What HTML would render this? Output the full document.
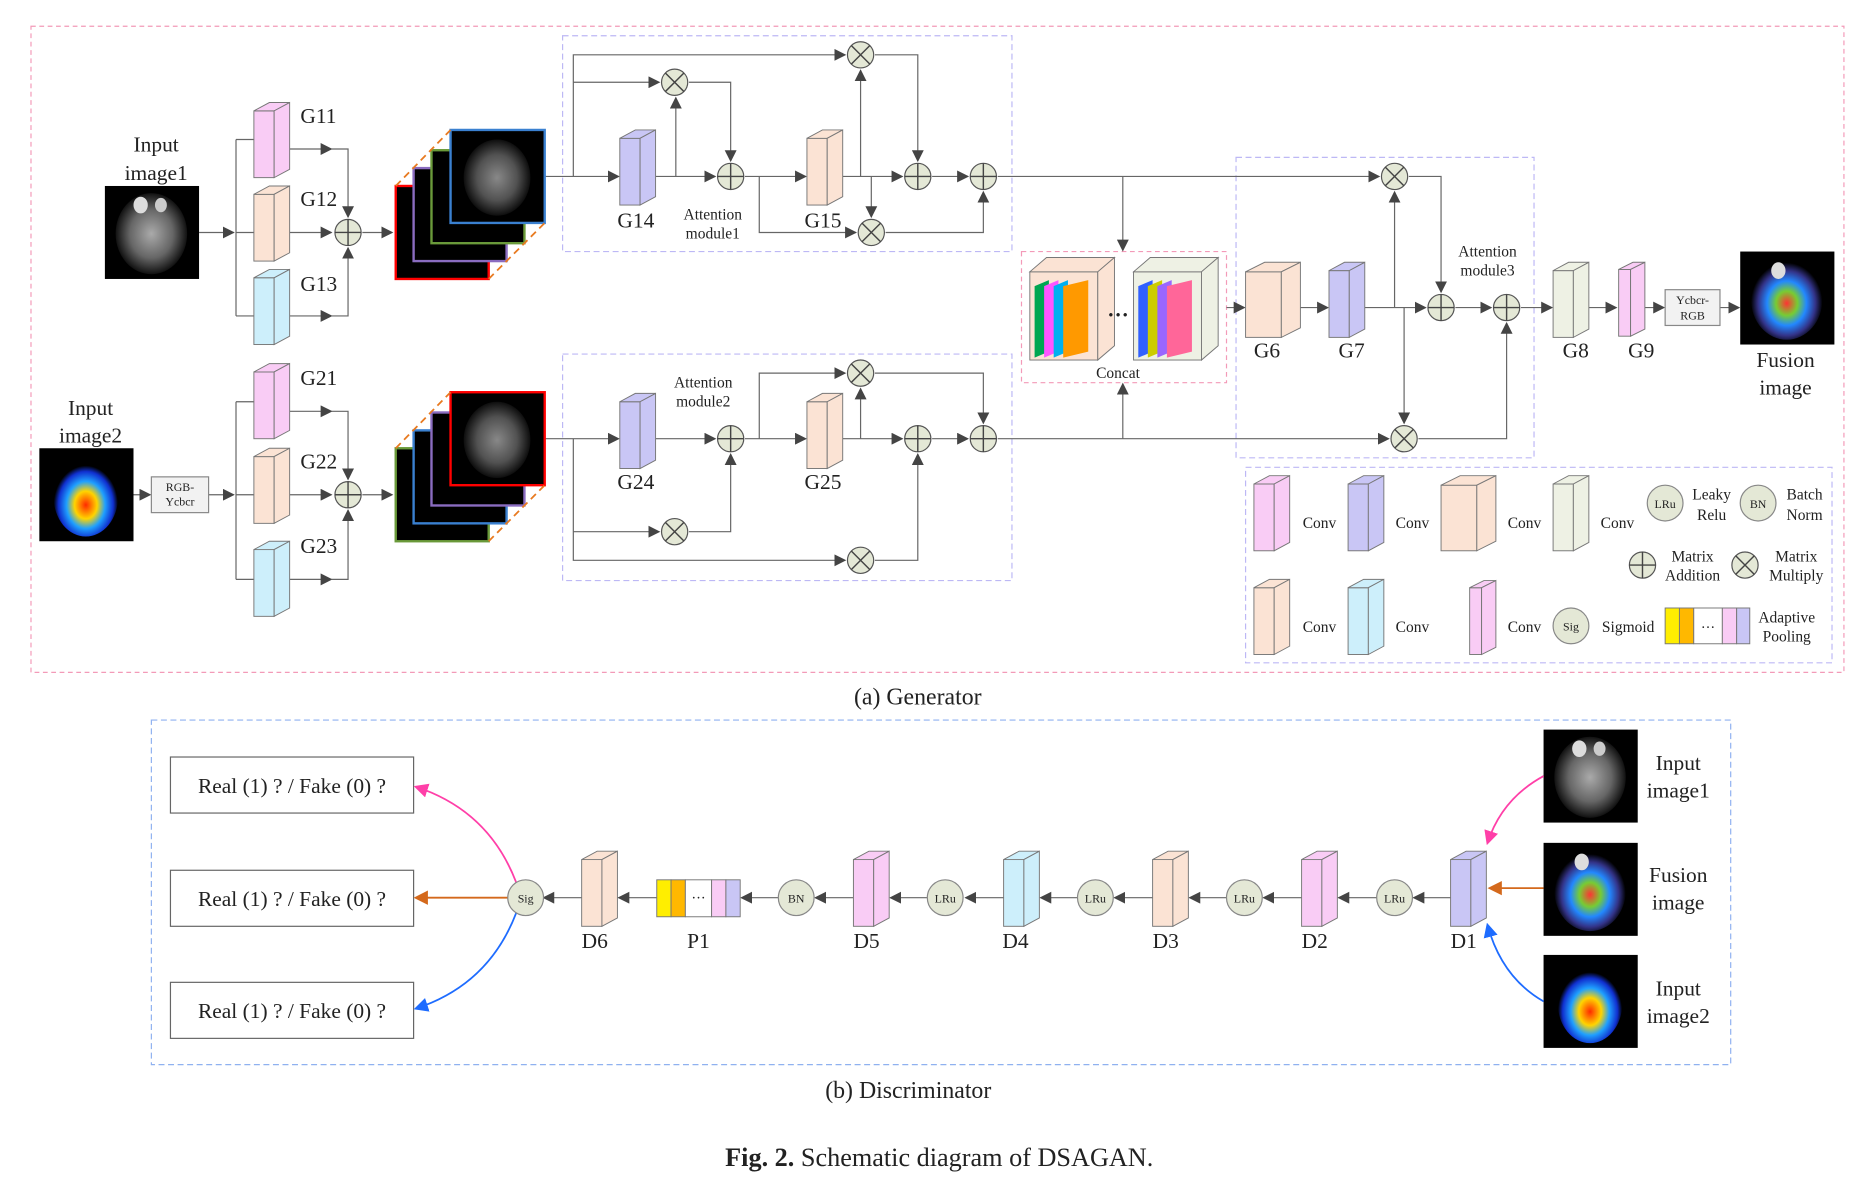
<!DOCTYPE html>
<html><head><meta charset="utf-8"><style>
html,body{margin:0;padding:0;background:#fff;}
svg{display:block;}
text{font-family:"Liberation Serif",serif;fill:#222;}
</style></head><body>
<svg width="1863" height="1185" viewBox="0 0 1563 994" preserveAspectRatio="none" xmlns="http://www.w3.org/2000/svg">
<defs>
<marker id="ar" markerWidth="10" markerHeight="10" refX="9" refY="5" orient="auto" markerUnits="userSpaceOnUse"><path d="M0,0 L10,5 L0,10 z" fill="#444"/></marker>
<marker id="arP" markerWidth="12" markerHeight="12" refX="10" refY="6" orient="auto" markerUnits="userSpaceOnUse"><path d="M0,0 L12,6 L0,12 z" fill="#ff3fa8"/></marker>
<marker id="arO" markerWidth="12" markerHeight="12" refX="10" refY="6" orient="auto" markerUnits="userSpaceOnUse"><path d="M0,0 L12,6 L0,12 z" fill="#d4691c"/></marker>
<marker id="arB" markerWidth="12" markerHeight="12" refX="10" refY="6" orient="auto" markerUnits="userSpaceOnUse"><path d="M0,0 L12,6 L0,12 z" fill="#1e6cff"/></marker>
<g id="ps" stroke="#777" stroke-width="0.8"><rect x="0" y="7" width="17" height="56"/><polygon points="0,7 13,0 30,0 17,7"/><polygon points="17,7 30,0 30,56 17,63"/></g>
<g id="pw" stroke="#777" stroke-width="0.8"><rect x="0" y="8" width="30" height="55"/><polygon points="0,8 16,0 46,0 30,8"/><polygon points="30,8 46,0 46,55 30,63"/></g>
<g id="pt" stroke="#777" stroke-width="0.8"><rect x="0" y="6" width="10" height="56"/><polygon points="0,6 12,0 22,0 10,6"/><polygon points="10,6 22,0 22,56 10,62"/></g>
<g id="add"><circle r="11" fill="#e4e8d6" stroke="#555" stroke-width="1"/><path d="M-11,0H11M0,-11V11" stroke="#444" stroke-width="1.2"/></g>
<g id="mul"><circle r="11" fill="#e4e8d6" stroke="#555" stroke-width="1"/><path d="M-7.8,-7.8L7.8,7.8M7.8,-7.8L-7.8,7.8" stroke="#444" stroke-width="1.2"/></g>
<radialGradient id="gg" cx="0.5" cy="0.5" r="0.5"><stop offset="0" stop-color="#aaa"/><stop offset="0.6" stop-color="#666"/><stop offset="1" stop-color="#111"/></radialGradient>
<radialGradient id="cg" cx="0.5" cy="0.6" r="0.5"><stop offset="0" stop-color="#ff2a00"/><stop offset="0.35" stop-color="#ffd400"/><stop offset="0.6" stop-color="#1fa0ff"/><stop offset="0.85" stop-color="#1030d0"/><stop offset="1" stop-color="#000"/></radialGradient>
<radialGradient id="fg" cx="0.5" cy="0.55" r="0.5"><stop offset="0" stop-color="#f33"/><stop offset="0.3" stop-color="#7c3"/><stop offset="0.55" stop-color="#28f"/><stop offset="0.8" stop-color="#338"/><stop offset="1" stop-color="#000"/></radialGradient>
<g id="bg"><rect width="79" height="78" fill="#000"/><ellipse cx="39" cy="40" rx="30" ry="34" fill="url(#gg)"/><ellipse cx="30" cy="16" rx="6" ry="7" fill="#ddd"/><ellipse cx="47" cy="16" rx="5" ry="6" fill="#ccc"/></g>
<g id="bc"><rect width="79" height="78" fill="#000"/><ellipse cx="39" cy="41" rx="27" ry="33" fill="url(#cg)"/></g>
<g id="bf"><rect width="79" height="78" fill="#000"/><ellipse cx="39" cy="40" rx="30" ry="34" fill="url(#fg)"/><ellipse cx="32" cy="16" rx="6" ry="7" fill="#ddd"/></g>
<g id="bs"><rect width="79" height="78" fill="#000"/><ellipse cx="39" cy="40" rx="28" ry="32" fill="url(#gg)" opacity="0.8"/></g>
</defs>

<!-- frames -->
<rect x="26" y="22" width="1521" height="542" fill="none" stroke="#f39ab8" stroke-dasharray="4,3" stroke-width="1"/>
<rect x="472" y="30" width="377" height="181" fill="none" stroke="#bdb8f5" stroke-dasharray="5,3"/>
<rect x="472" y="297" width="377" height="190" fill="none" stroke="#bdb8f5" stroke-dasharray="5,3"/>
<rect x="857" y="211" width="172" height="110" fill="none" stroke="#f39ab8" stroke-dasharray="4,3"/>
<rect x="1037" y="132" width="250" height="252" fill="none" stroke="#bdb8f5" stroke-dasharray="5,3"/>
<rect x="1045" y="392" width="492" height="164" fill="none" stroke="#bdb8f5" stroke-dasharray="5,3"/>
<rect x="127" y="604" width="1325" height="289" fill="none" stroke="#8fb1f0" stroke-dasharray="5,3"/>

<g font-size="18" text-anchor="middle">
<text x="131" y="127">Input</text><text x="131" y="151">image1</text>
<text x="76" y="348">Input</text><text x="76" y="371">image2</text>
<text x="1498" y="308">Fusion</text><text x="1498" y="331">image</text>
</g>
<use href="#bg" x="88" y="156"/>
<use href="#bc" x="33" y="376"/>
<use href="#bf" x="1460" y="211"/>

<g stroke="#666" stroke-width="1" fill="none">
<!-- top left -->
<path d="M167,195H196" marker-end="url(#ar)"/>
<path d="M198,117V265M198,117H213M198,195H213M198,265H213"/>
<path d="M243,125H278" marker-end="url(#ar)"/><path d="M243,195H278" marker-end="url(#ar)"/><path d="M243,265H278" marker-end="url(#ar)"/>
<path d="M278,125H292V182" marker-end="url(#ar)"/><path d="M278,265H292V208" marker-end="url(#ar)"/>
<path d="M304,195H329" marker-end="url(#ar)"/>
<!-- bottom left -->
<path d="M112,415H126" marker-end="url(#ar)"/>
<path d="M175,415H196" marker-end="url(#ar)"/>
<path d="M198,337V486M198,337H213M198,415H213M198,486H213"/>
<path d="M243,345H278" marker-end="url(#ar)"/><path d="M243,415H278" marker-end="url(#ar)"/><path d="M243,486H278" marker-end="url(#ar)"/>
<path d="M278,345H292V402" marker-end="url(#ar)"/><path d="M278,486H292V428" marker-end="url(#ar)"/>
<path d="M304,415H329" marker-end="url(#ar)"/>
<!-- module1 -->
<path d="M457,148H519" marker-end="url(#ar)"/>
<path d="M481,148V46H709" marker-end="url(#ar)"/>
<path d="M481,69H553" marker-end="url(#ar)"/>
<path d="M550,148H600" marker-end="url(#ar)"/>
<path d="M567,148V82" marker-end="url(#ar)"/>
<path d="M578,69H613V135" marker-end="url(#ar)"/>
<path d="M625,148H676" marker-end="url(#ar)"/>
<path d="M637,148V195H718" marker-end="url(#ar)"/>
<path d="M707,148H757" marker-end="url(#ar)"/>
<path d="M722,148V59" marker-end="url(#ar)"/>
<path d="M731,148V182" marker-end="url(#ar)"/>
<path d="M734,46H770V135" marker-end="url(#ar)"/>
<path d="M782,148H812" marker-end="url(#ar)"/>
<path d="M743,195H825V161" marker-end="url(#ar)"/>
<path d="M837,148H1157" marker-end="url(#ar)"/>
<path d="M942,148V210" marker-end="url(#ar)"/>
<!-- module2 -->
<path d="M457,368H519" marker-end="url(#ar)"/>
<path d="M481,368V470H709" marker-end="url(#ar)"/>
<path d="M481,446H553" marker-end="url(#ar)"/>
<path d="M550,368H600" marker-end="url(#ar)"/>
<path d="M578,446H613V381" marker-end="url(#ar)"/>
<path d="M625,368H676" marker-end="url(#ar)"/>
<path d="M637,368V313H709" marker-end="url(#ar)"/>
<path d="M707,368H757" marker-end="url(#ar)"/>
<path d="M722,368V326" marker-end="url(#ar)"/>
<path d="M734,313H825V355" marker-end="url(#ar)"/>
<path d="M734,470H770V381" marker-end="url(#ar)"/>
<path d="M782,368H812" marker-end="url(#ar)"/>
<path d="M837,368H1165" marker-end="url(#ar)"/>
<path d="M942,368V322" marker-end="url(#ar)"/>
<!-- module3 -->
<path d="M1029,258H1044" marker-end="url(#ar)"/>
<path d="M1091,258H1114" marker-end="url(#ar)"/>
<path d="M1145,258H1196" marker-end="url(#ar)"/>
<path d="M1170,258V161" marker-end="url(#ar)"/>
<path d="M1178,258V355" marker-end="url(#ar)"/>
<path d="M1182,148H1209V245" marker-end="url(#ar)"/>
<path d="M1221,258H1251" marker-end="url(#ar)"/>
<path d="M1190,368H1264V271" marker-end="url(#ar)"/>
<path d="M1276,258H1302" marker-end="url(#ar)"/>
<path d="M1333,258H1356" marker-end="url(#ar)"/>
<path d="M1380,258H1396" marker-end="url(#ar)"/>
<path d="M1443,258H1459" marker-end="url(#ar)"/>
</g>

<!-- feature stacks -->
<g stroke-width="2">
<rect x="332" y="156" width="78" height="78" fill="#000" stroke="#f00"/>
<rect x="347" y="141" width="78" height="78" fill="#000" stroke="#8a6cc0"/>
<rect x="362" y="126" width="78" height="78" fill="#000" stroke="#6a9a3a"/>
<use href="#bs" x="378" y="109"/><rect x="378" y="109" width="79" height="78" fill="none" stroke="#3a80d0"/>
<rect x="332" y="376" width="78" height="78" fill="#000" stroke="#6a9a3a"/>
<rect x="347" y="361" width="78" height="78" fill="#000" stroke="#3a80d0"/>
<rect x="362" y="346" width="78" height="78" fill="#000" stroke="#8a6cc0"/>
<use href="#bs" x="378" y="329"/><rect x="378" y="329" width="79" height="78" fill="none" stroke="#f00"/>
</g>
<g stroke="#e87a20" stroke-width="1.5" stroke-dasharray="6,4">
<path d="M332,156L378,109M410,234L457,187"/><path d="M332,376L378,329M410,454L457,407"/>
</g>

<!-- prisms generator -->
<use href="#ps" x="213" y="86" fill="#f9ccf5"/>
<use href="#ps" x="213" y="156" fill="#fbe3d4"/>
<use href="#ps" x="213" y="226" fill="#cdeffb"/>
<use href="#ps" x="213" y="305" fill="#f9ccf5"/>
<use href="#ps" x="213" y="376" fill="#fbe3d4"/>
<use href="#ps" x="213" y="454" fill="#cdeffb"/>
<use href="#ps" x="520" y="109" fill="#c9c6f5"/>
<use href="#ps" x="677" y="109" fill="#fbe3d4"/>
<use href="#ps" x="520" y="330" fill="#c9c6f5"/>
<use href="#ps" x="677" y="330" fill="#fbe3d4"/>
<use href="#pw" x="1045" y="220" fill="#fbe3d4"/>
<use href="#ps" x="1115" y="220" fill="#c9c6f5"/>
<use href="#ps" x="1303" y="220" fill="#eef1e4"/>
<use href="#pt" x="1358" y="220" fill="#f9ccf5"/>

<!-- concat -->
<g stroke="#777" stroke-width="0.8">
<rect x="864" y="228" width="57" height="74" fill="#fbe3d4"/><polygon points="864,228 878,216 935,216 921,228" fill="#fbe3d4"/><polygon points="921,228 935,216 935,290 921,302" fill="#fbe3d4"/>
<rect x="951" y="228" width="57" height="74" fill="#eef1e4"/><polygon points="951,228 965,216 1022,216 1008,228" fill="#eef1e4"/><polygon points="1008,228 1022,216 1022,290 1008,302" fill="#eef1e4"/>
</g>
<polygon points="868,240 880,235 880,295 868,300" fill="#00a651"/>
<polygon points="876,240 888,235 888,295 876,300" fill="#ff55ff"/>
<polygon points="884,240 896,235 896,295 884,300" fill="#00b0f0"/>
<polygon points="892,240 913,235 913,295 892,300" fill="#ff9900"/>
<polygon points="955,240 967,235 967,295 955,300" fill="#3060ff"/>
<polygon points="963,240 975,235 975,295 963,300" fill="#cccc00"/>
<polygon points="971,240 983,235 983,295 971,300" fill="#9966ff"/>
<polygon points="979,240 1000,235 1000,295 979,300" fill="#ff6699"/>
<text x="938" y="270" font-size="18" text-anchor="middle" font-weight="bold">···</text>
<text x="938" y="317" font-size="13" text-anchor="middle">Concat</text>

<!-- ycbcr boxes -->
<rect x="127" y="400" width="48" height="30" fill="#f2f2f2" stroke="#888"/>
<text x="151" y="412" font-size="10" text-anchor="middle">RGB-</text><text x="151" y="424" font-size="10" text-anchor="middle">Ycbcr</text>
<rect x="1397" y="243" width="46" height="30" fill="#f2f2f2" stroke="#888"/>
<text x="1420" y="255" font-size="10" text-anchor="middle">Ycbcr-</text><text x="1420" y="268" font-size="10" text-anchor="middle">RGB</text>

<!-- operators -->
<use href="#add" x="292" y="195"/><use href="#add" x="292" y="415"/>
<use href="#mul" x="566" y="69"/><use href="#mul" x="722" y="46"/><use href="#mul" x="731" y="195"/>
<use href="#add" x="613" y="148"/><use href="#add" x="770" y="148"/><use href="#add" x="825" y="148"/>
<use href="#mul" x="566" y="446"/><use href="#mul" x="722" y="470"/><use href="#mul" x="722" y="313"/>
<use href="#add" x="613" y="368"/><use href="#add" x="770" y="368"/><use href="#add" x="825" y="368"/>
<use href="#mul" x="1170" y="148"/><use href="#mul" x="1178" y="368"/>
<use href="#add" x="1209" y="258"/><use href="#add" x="1264" y="258"/>

<!-- labels -->
<g font-size="18">
<text x="252" y="103">G11</text><text x="252" y="173">G12</text><text x="252" y="244">G13</text>
<text x="252" y="323">G21</text><text x="252" y="393">G22</text><text x="252" y="464">G23</text>
<text x="518" y="191">G14</text><text x="675" y="191">G15</text>
<text x="518" y="410">G24</text><text x="675" y="410">G25</text>
<text x="1052" y="300">G6</text><text x="1123" y="300">G7</text><text x="1311" y="300">G8</text><text x="1366" y="300">G9</text>
</g>
<g font-size="13" text-anchor="middle">
<text x="598" y="184">Attention</text><text x="598" y="200">module1</text>
<text x="590" y="325">Attention</text><text x="590" y="341">module2</text>
<text x="1248" y="215">Attention</text><text x="1248" y="231">module3</text>
</g>

<!-- legend -->
<use href="#ps" x="1052" y="399" fill="#f9ccf5"/>
<use href="#ps" x="1131" y="399" fill="#c9c6f5"/>
<use href="#pw" x="1209" y="399" fill="#fbe3d4"/>
<use href="#ps" x="1303" y="399" fill="#eef1e4"/>
<use href="#ps" x="1052" y="486" fill="#fbe3d4"/>
<use href="#ps" x="1131" y="486" fill="#cdeffb"/>
<use href="#pt" x="1233" y="487" fill="#f9ccf5"/>
<g font-size="13" text-anchor="middle">
<text x="1107" y="443">Conv</text><text x="1185" y="443">Conv</text><text x="1279" y="443">Conv</text><text x="1357" y="443">Conv</text>
<text x="1107" y="530">Conv</text><text x="1185" y="530">Conv</text><text x="1279" y="530">Conv</text>
<text x="1436" y="419">Leaky</text><text x="1436" y="436">Relu</text>
<text x="1514" y="419">Batch</text><text x="1514" y="436">Norm</text>
<text x="1420" y="471">Matrix</text><text x="1420" y="487">Addition</text>
<text x="1507" y="471">Matrix</text><text x="1507" y="487">Multiply</text>
<text x="1366" y="530">Sigmoid</text>
<text x="1499" y="522">Adaptive</text><text x="1499" y="538">Pooling</text>
</g>
<g fill="#e4e8d6" stroke="#888">
<circle cx="1397" cy="422" r="15"/><circle cx="1475" cy="422" r="15"/><circle cx="1318" cy="525" r="15"/>
</g>
<g font-size="10" text-anchor="middle"><text x="1397" y="426">LRu</text><text x="1475" y="426">BN</text><text x="1318" y="529">Sig</text></g>
<use href="#add" x="1378" y="474"/><use href="#mul" x="1464" y="474"/>
<g stroke="#777" stroke-width="0.8">
<rect x="1397" y="510" width="12" height="30" fill="#ffee00"/><rect x="1409" y="510" width="12" height="30" fill="#ffb800"/>
<rect x="1421" y="510" width="24" height="30" fill="#fff"/><rect x="1445" y="510" width="12" height="30" fill="#f9ccf5"/><rect x="1457" y="510" width="11" height="30" fill="#c9c6f5"/>
</g>
<text x="1433" y="530" font-size="12" text-anchor="middle">···</text>

<text x="770" y="591" font-size="20" text-anchor="middle">(a) Generator</text>

<!-- discriminator -->
<g fill="#fff" stroke="#666">
<rect x="143" y="635" width="204" height="47"/><rect x="143" y="730" width="204" height="47"/><rect x="143" y="824" width="204" height="47"/>
</g>
<g font-size="18" text-anchor="middle">
<text x="245" y="665">Real (1) ? / Fake (0) ?</text><text x="245" y="760">Real (1) ? / Fake (0) ?</text><text x="245" y="854">Real (1) ? / Fake (0) ?</text>
</g>
<use href="#bg" x="1295" y="612"/><use href="#bf" x="1295" y="707"/><use href="#bc" x="1295" y="801"/>
<g font-size="18" text-anchor="middle">
<text x="1408" y="646">Input</text><text x="1408" y="669">image1</text>
<text x="1408" y="740">Fusion</text><text x="1408" y="763">image</text>
<text x="1408" y="835">Input</text><text x="1408" y="858">image2</text>
</g>
<path d="M1295,651 Q1260,670 1248,707" fill="none" stroke="#ff3fa8" stroke-width="1.5" marker-end="url(#arP)"/>
<path d="M1295,745 H1250" fill="none" stroke="#d4691c" stroke-width="1.5" marker-end="url(#arO)"/>
<path d="M1295,840 Q1260,820 1248,776" fill="none" stroke="#1e6cff" stroke-width="1.5" marker-end="url(#arB)"/>
<path d="M433,740 Q410,680 349,660" fill="none" stroke="#ff3fa8" stroke-width="1.5" marker-end="url(#arP)"/>
<path d="M428,753 H349" fill="none" stroke="#d4691c" stroke-width="1.5" marker-end="url(#arO)"/>
<path d="M433,766 Q410,826 349,846" fill="none" stroke="#1e6cff" stroke-width="1.5" marker-end="url(#arB)"/>

<g stroke="#666" fill="none">
<path d="M1217,753H1186" marker-end="url(#ar)"/>
<path d="M1155,753H1123" marker-end="url(#ar)"/>
<path d="M1092,753H1060" marker-end="url(#ar)"/>
<path d="M1029,753H998" marker-end="url(#ar)"/>
<path d="M967,753H935" marker-end="url(#ar)"/>
<path d="M904,753H873" marker-end="url(#ar)"/>
<path d="M842,753H810" marker-end="url(#ar)"/>
<path d="M778,753H747" marker-end="url(#ar)"/>
<path d="M716,753H684" marker-end="url(#ar)"/>
<path d="M653,753H622" marker-end="url(#ar)"/>
<path d="M551,753H519" marker-end="url(#ar)"/>
<path d="M488,753H456" marker-end="url(#ar)"/>
</g>
<use href="#ps" x="1217" y="714" fill="#c9c6f5"/>
<use href="#ps" x="1092" y="714" fill="#f9ccf5"/>
<use href="#ps" x="967" y="714" fill="#fbe3d4"/>
<use href="#ps" x="842" y="714" fill="#cdeffb"/>
<use href="#ps" x="716" y="714" fill="#f9ccf5"/>
<use href="#ps" x="488" y="714" fill="#fbe3d4"/>
<g stroke="#777" stroke-width="0.8">
<rect x="551" y="738" width="12" height="31" fill="#ffee00"/><rect x="563" y="738" width="12" height="31" fill="#ffb800"/>
<rect x="575" y="738" width="22" height="31" fill="#fff"/><rect x="597" y="738" width="12" height="31" fill="#f9ccf5"/><rect x="609" y="738" width="12" height="31" fill="#c9c6f5"/>
</g>
<text x="586" y="757" font-size="12" text-anchor="middle">···</text>
<g fill="#e4e8d6" stroke="#888">
<circle cx="1170" cy="753" r="15"/><circle cx="1044" cy="753" r="15"/><circle cx="919" cy="753" r="15"/><circle cx="793" cy="753" r="15"/><circle cx="668" cy="753" r="15"/><circle cx="441" cy="753" r="15"/>
</g>
<g font-size="10" text-anchor="middle">
<text x="1170" y="757">LRu</text><text x="1044" y="757">LRu</text><text x="919" y="757">LRu</text><text x="793" y="757">LRu</text><text x="668" y="757">BN</text><text x="441" y="757">Sig</text>
</g>
<g font-size="18" text-anchor="middle">
<text x="1228" y="795">D1</text><text x="1103" y="795">D2</text><text x="978" y="795">D3</text><text x="852" y="795">D4</text><text x="727" y="795">D5</text><text x="586" y="795">P1</text><text x="499" y="795">D6</text>
</g>

<text x="762" y="921" font-size="20" text-anchor="middle">(b) Discriminator</text>
<text x="788" y="978" font-size="22" text-anchor="middle"><tspan font-weight="bold">Fig. 2.</tspan> Schematic diagram of DSAGAN.</text>
</svg>
</body></html>
